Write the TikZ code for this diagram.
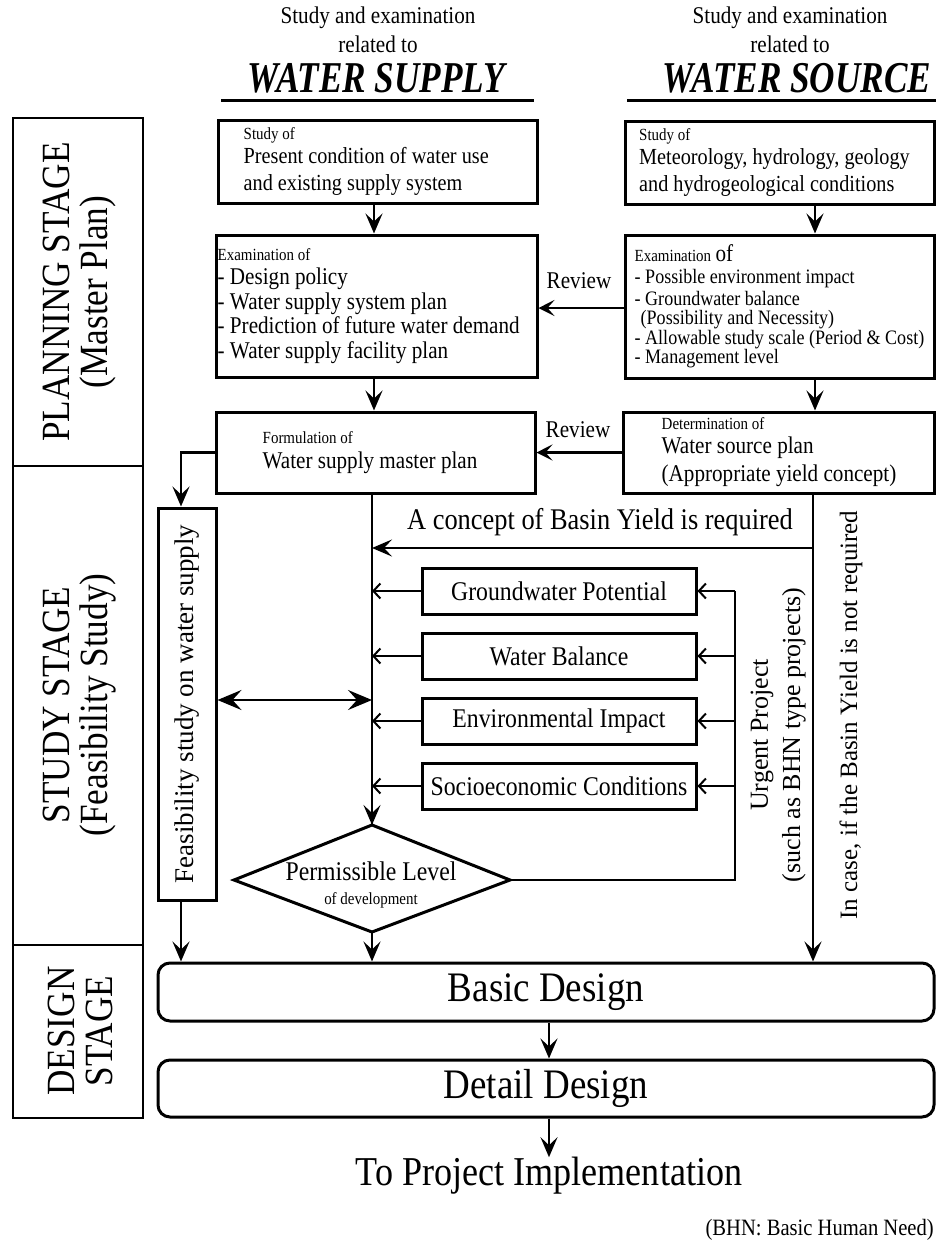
\documentclass[tikz,border=0pt]{standalone}
\usepackage{fontspec}
\setmainfont[FakeStretch=0.88]{Liberation Serif}
\newfontfamily\widefont{Liberation Serif}
\newfontfamily\titlefont[FakeStretch=0.8]{Liberation Serif}
\usetikzlibrary{arrows.meta,calc}
\newcommand\fsz[2]{\fontsize{#1}{#2}\selectfont}
\begin{document}
\begin{tikzpicture}[x=1pt,y=-1pt,
  box/.style={draw, line width=3pt, inner sep=0pt},
  rbox/.style={draw, line width=3pt, rounded corners=12pt, inner sep=0pt, font=\fsz{42}{46}},
  sbox/.style={draw, line width=3pt, inner sep=0pt, minimum width=274pt, minimum height=46pt, font=\fsz{27}{30}},
  txt/.style={inner sep=0pt, align=left, anchor=west},
  arr/.style={line width=2.5pt, -{Stealth[length=20pt,width=17pt,inset=8pt]}},
  rev/.style={line width=2.5pt, -{Stealth[length=16pt,width=16pt,inset=7pt]}},
  dbl/.style={line width=2.5pt, {Stealth[length=24pt,width=20pt,inset=9pt]}-{Stealth[length=24pt,width=20pt,inset=9pt]}},
  sarr/.style={line width=2pt, -{Straight Barb[length=7pt,width=15pt]}},
  link/.style={line width=2.5pt},
  rot/.style={rotate=90, inner sep=0pt, font=\widefont\fsz{26}{30}},
  stage/.style={rotate=90, inner sep=0pt, align=center, font=\fsz{40}{38}}
]
\useasboundingbox (0,0) rectangle (936,1243);

% headers
\node[font=\fsz{24}{26}] (h1a) at (378,18) {Study and examination};
\node[font=\fsz{24}{26}] (h1b) at (378,44) {related to};
\node[font=\titlefont\bfseries\itshape\fsz{44}{48}] (h1c) at (376,78) {WATER SUPPLY};
\node[font=\fsz{24}{26}] (h2a) at (790,18) {Study and examination};
\node[font=\fsz{24}{26}] (h2b) at (790,44) {related to};
\node[font=\titlefont\bfseries\itshape\fsz{44}{48}] (h2c) at (797,78) {WATER SOURCE};
\draw[line width=3pt] (221,100) -- (534,100);
\draw[line width=3pt] (627,100) -- (936,100);

% stage column
\draw[line width=2.5pt] (13,118) rectangle (143,1118);
\draw[line width=2.5pt] (13,466) -- (143,466);
\draw[line width=2.5pt] (13,945) -- (143,945);
\node[stage] (sPlan) at (80,292) {PLANNING STAGE\\(Master Plan)};
\node[stage] (sStudy) at (80,705) {STUDY STAGE\\(Feasibility Study)};
\node[stage] (sDesign) at (80,1031) {DESIGN\\STAGE};

% planning boxes
\node[box, minimum width=319pt, minimum height=83pt] (b1L) at (377.5,161.5) {};
\node[txt, font=\fsz{23}{27}] (t1L) at ([xshift=27pt]b1L.west) {{\fsz{17}{20}Study of}\\[-3pt]Present condition of water use\\and existing supply system};
\node[box, minimum width=309pt, minimum height=83pt] (b1R) at (780,162.5) {};
\node[txt, font=\fsz{23}{27}] (t1R) at ([xshift=15pt]b1R.west) {{\fsz{17}{20}Study of}\\[-3pt]Meteorology, hydrology, geology\\and hydrogeological conditions};

\node[box, minimum width=321pt, minimum height=142pt] (b2L) at (376.5,306) {};
\node[txt, font=\fsz{24}{24.5}] (t2L) at ([xshift=3pt]b2L.west) {{\fsz{17}{20}Examination of}\\- Design policy\\- Water supply system plan\\- Prediction of future water demand\\- Water supply facility plan};
\node[box, minimum width=309pt, minimum height=143pt] (b2R) at (779.5,306.5) {};
\node[txt, font=\fsz{20.5}{19.5}] (t2R) at ([xshift=11pt]b2R.west) {{\fsz{17}{20}Examination} {\fsz{24}{26}of}\\[3pt]- Possible environment impact\\[2pt]- Groundwater balance\\\hspace{6pt}(Possibility and Necessity)\\- Allowable study scale (Period \& Cost)\\- Management level};

\node[box, minimum width=319pt, minimum height=81pt] (b3L) at (375.5,452.5) {};
\node[txt, font=\fsz{24}{25}] (t3L) at ([xshift=48pt]b3L.west) {{\fsz{17}{20}Formulation of}\\Water supply master plan};
\node[box, minimum width=311pt, minimum height=81pt] (b3R) at (778.5,452.5) {};
\node[txt, font=\fsz{24}{28}] (t3R) at ([xshift=40pt]b3R.west) {{\fsz{17}{20}Determination of}\\[-4pt]Water source plan\\(Appropriate yield concept)};

\draw[arr] (b1L.south -| 374,0) -- (b2L.north -| 374,0);
\draw[arr] (b1R.south -| 815,0) -- (b2R.north -| 815,0);
\draw[arr] (b2L.south -| 374,0) -- (b3L.north -| 374,0);
\draw[arr] (b2R.south -| 815,0) -- (b3R.north -| 815,0);
\draw[rev] (b2R.west |- 0,308) -- (b2L.east |- 0,308);
\draw[rev] (b3R.west) -- (b3L.east);
\node[font=\fsz{24}{26}] (rv1) at (579,281) {Review};
\node[font=\fsz{24}{26}] (rv2) at (578,430) {Review};

% study stage
\node[box, minimum width=58pt, minimum height=392pt] (fs) at (187,704) {};
\node[rot, font=\widefont\fsz{27}{30}] (fst) at (fs.center) {Feasibility study on water supply};
\draw[arr] (b3L.west) -| ([xshift=-6pt]fs.north);

\coordinate (c3) at (372,493);
\coordinate (r3) at (813,493);
\coordinate (basinR) at (813,548);
\coordinate (dT) at (372,825);
\coordinate (dR) at (510,880);
\coordinate (dB) at (372,932);
\coordinate (dL) at (234,880);

\node[font=\fsz{30}{32}] (basinT) at (600,522) {A concept of Basin Yield is required};
\draw[link] (c3) -- (dT);
\draw[arr] (c3) -- (dT);
\draw[arr] (basinR) -- (basinR -| dT);

\node[sbox] (gp) at (559,591) {Groundwater Potential};
\node[sbox] (wb) at (559,656) {Water Balance};
\node[sbox] (ei) at (559,721) {Environmental Impact};
\node[sbox] (se) at (559,786) {Socioeconomic Conditions};
\coordinate (u0) at (735,591);
\coordinate (u1) at (735,880);
\draw[line width=2pt] (u0) -- (u1) -- (dR);
\foreach \n in {gp,wb,ei,se}{
  \draw[sarr] (\n.west) -- (\n.west -| dT);
  \draw[sarr] (\n.east -| u0) -- (\n.east);
}
\draw[dbl] (fs.east |- 0,700) -- (dT |- 0,700);

\draw[line width=3pt, line join=miter] (dT) -- (dR) -- (dB) -- (dL) -- cycle;
\node[align=center, inner sep=0pt, font=\fsz{27}{24}] (pl) at (371,885) {Permissible Level\\{\fsz{17}{20}of development}};

\node[rot] (urg1) at (762,735) {Urgent Project};
\node[rot] (urg2) at (794,735) {(such as BHN type projects)};
\node[rot, font=\widefont\fsz{25}{30}] (incase) at (851,715) {In case, if the Basin Yield is not required};

% design stage
\node[rbox, minimum width=776pt, minimum height=58pt] (bd) at (546,992) {Basic Design};
\node[rbox, minimum width=776pt, minimum height=57pt] (dd) at (546,1088.5) {Detail Design};
\draw[arr] ([xshift=-6pt]fs.south) -- ([xshift=-6pt]fs.south |- bd.north);
\draw[arr] (dB) -- (dB |- bd.north);
\draw[arr] (r3) -- (r3 |- bd.north);
\draw[arr] (bd.south -| 549,0) -- (dd.north -| 549,0);
\node[font=\fsz{41}{44}, inner sep=0pt] (tpi) at (549,1176) {To Project Implementation};
\draw[arr] (dd.south -| 549,0) -- (tpi.north -| 549,0);
\node[anchor=east, inner sep=0pt, font=\fsz{23.4}{26}] (bhn) at (934,1230) {(BHN: Basic Human Need)};
\end{tikzpicture}
\end{document}
